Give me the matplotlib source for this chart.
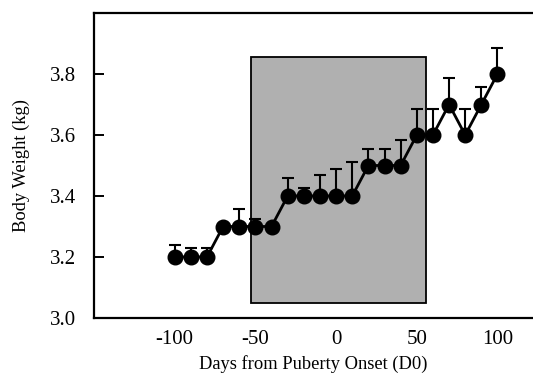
import matplotlib
matplotlib.use("Agg")
import matplotlib.pyplot as plt
from matplotlib.patches import Rectangle
import numpy as np

days = [-100, -90, -80, -70, -60, -50, -40, -30, -20, -10, 0, 10, 20, 30, 40, 50, 60, 70, 80, 90, 100]
weight = [3.2, 3.2, 3.2, 3.3, 3.3, 3.3, 3.3, 3.4, 3.4, 3.4, 3.4, 3.4, 3.5, 3.5, 3.5, 3.6, 3.6, 3.7, 3.6, 3.7, 3.8]
upper_err = [0.038, 0.028, 0.028, 0.0, 0.059, 0.026, 0.0, 0.06, 0.027, 0.07, 0.09, 0.11, 0.054, 0.054, 0.084, 0.085, 0.085, 0.086, 0.085, 0.056, 0.084]
shade_days = [-53, 56]
shade_weight = [3.05, 3.857]
xticks = [-100, -50, 0, 50, 100]
yticks = [3.0, 3.2, 3.4, 3.6, 3.8]

plt.rcParams['font.family'] = ['Liberation Serif', 'DejaVu Serif']
fig = plt.figure(figsize=(5.33, 3.75), dpi=100)
ax = fig.add_axes([94/533, 57/375, 1 - 94/533, (318-13)/375])

ax.add_patch(Rectangle((shade_days[0], shade_weight[0]), shade_days[1]-shade_days[0],
                       shade_weight[1]-shade_weight[0], facecolor='#b0b0b0',
                       edgecolor='black', linewidth=1.3, zorder=1))

ax.errorbar(days, weight, yerr=[np.zeros(len(upper_err)), upper_err], fmt='none',
            ecolor='black', elinewidth=1.5, capsize=4, capthick=1.5, zorder=2)
ax.plot(days, weight, color='black', linewidth=2.0, marker='o', markersize=10.5,
        markerfacecolor='black', markeredgecolor='black', zorder=3)

ax.set_xlim(-150, 122)
ax.set_ylim(3.0, 4.0)
ax.set_xticks(xticks)
ax.set_xticklabels([str(t) for t in xticks])
ax.set_yticks(yticks)
ax.set_yticklabels([f"{t:.1f}" for t in yticks])
ax.tick_params(axis='y', direction='in', length=7, width=1.4, labelsize=15, pad=13)
ax.tick_params(axis='x', length=0, labelsize=15, pad=9)

for s in ['left', 'top', 'bottom']:
    ax.spines[s].set_linewidth(1.6)
ax.spines['right'].set_visible(False)

ax.set_xlabel('Days from Puberty Onset (D0)', fontsize=13.3, labelpad=4)
ax.set_ylabel('Body Weight (kg)', fontsize=13.3, labelpad=14)

fig.savefig('out.png', dpi=100)
